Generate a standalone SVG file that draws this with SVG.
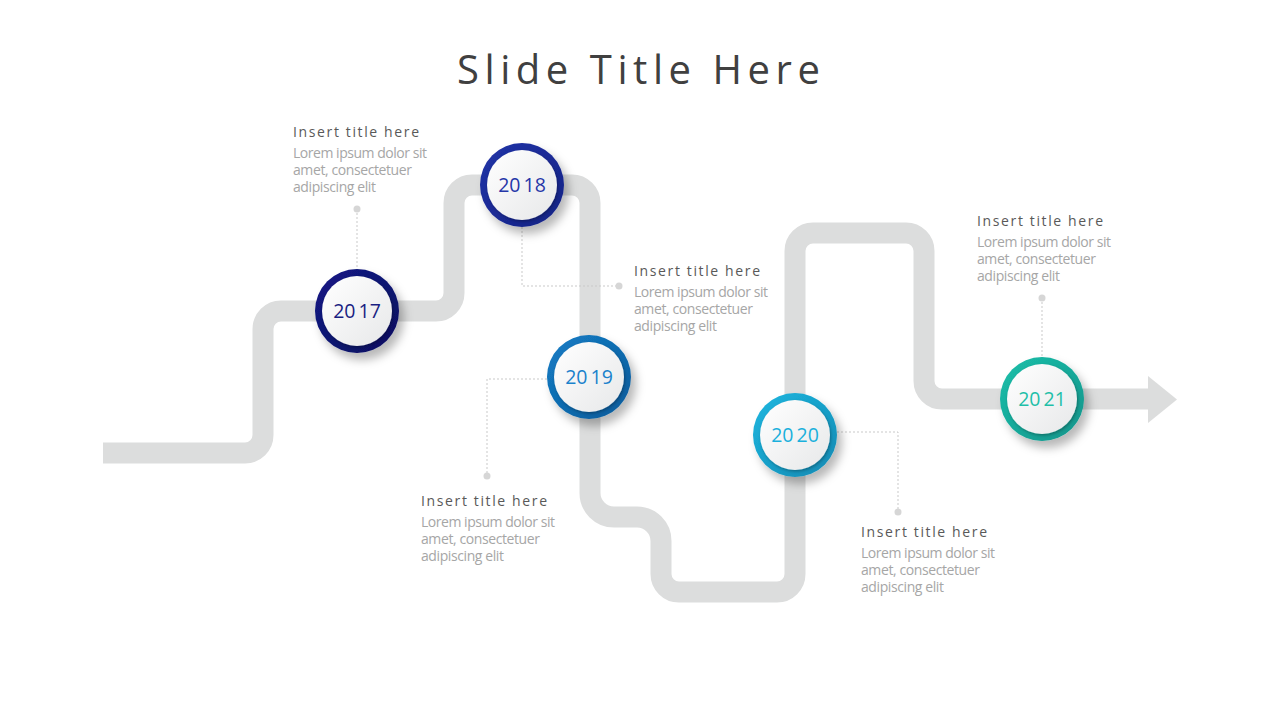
<svg xmlns="http://www.w3.org/2000/svg" width="1280" height="720" viewBox="0 0 1280 720">
<defs>
<style>
.road{fill:none;stroke:#dcdddd;stroke-width:21;stroke-linejoin:round}
.lead{fill:none;stroke:#c9c9c9;stroke-width:1;stroke-dasharray:2 2}
.dot{fill:#d6d6d6}
.ttl{font-family:"Open Sans","Liberation Sans",sans-serif;font-size:14px;fill:#595959}
.body{font-family:"Open Sans","Liberation Sans",sans-serif;font-size:14px;fill:#a6a6a6}
.yr{font-family:"Open Sans","Liberation Sans",sans-serif;font-size:19.5px;text-anchor:middle}
.inner{fill:url(#gWhite)}
</style>
<filter id="sh" x="-40%" y="-40%" width="190%" height="190%">
<feDropShadow dx="5" dy="7" stdDeviation="5" flood-color="#000" flood-opacity="0.28"/>
</filter>
<filter id="ish" x="-20%" y="-20%" width="140%" height="140%">
<feDropShadow dx="1" dy="1.5" stdDeviation="1.5" flood-color="#000" flood-opacity="0.3"/>
</filter>
<linearGradient id="gWhite" x1="0" y1="0" x2="1" y2="1">
<stop offset="0" stop-color="#ffffff"/>
<stop offset="1" stop-color="#e7e8e9"/>
</linearGradient>
<linearGradient id="g17" x1="0" y1="0" x2="1" y2="1">
<stop offset="0" stop-color="#141a86"/>
<stop offset="1" stop-color="#0a0f5e"/>
</linearGradient>
<linearGradient id="g18" x1="0" y1="0" x2="1" y2="1">
<stop offset="0" stop-color="#2233a8"/>
<stop offset="1" stop-color="#142283"/>
</linearGradient>
<linearGradient id="g19" x1="0" y1="0" x2="1" y2="1">
<stop offset="0" stop-color="#147dc6"/>
<stop offset="1" stop-color="#0b5a99"/>
</linearGradient>
<linearGradient id="g20" x1="0" y1="0" x2="1" y2="1">
<stop offset="0" stop-color="#1db7e0"/>
<stop offset="1" stop-color="#1289b2"/>
</linearGradient>
<linearGradient id="g21" x1="0" y1="0" x2="1" y2="1">
<stop offset="0" stop-color="#1cc0aa"/>
<stop offset="1" stop-color="#10938a"/>
</linearGradient>
</defs>
<rect width="1280" height="720" fill="#ffffff"/>
<text x="457" y="84" textLength="363" lengthAdjust="spacing" font-family="'Open Sans','Liberation Sans',sans-serif" font-size="40" fill="#404040">Slide Title Here</text>

<g id="road">
<path class="road" d="M103,453 H245 A18,18 0 0 0 263,435 V329 A18,18 0 0 1 281,311 H436 A18,18 0 0 0 454,293 V203 A18,18 0 0 1 472,185 H572 A18,18 0 0 1 590,203 V493 A24,24 0 0 0 614,517 H637 A24,24 0 0 1 661,541 V574 A18,18 0 0 0 679,592 H777 A18,18 0 0 0 795,574 V251 A18,18 0 0 1 813,233 H906 A18,18 0 0 1 924,251 V381 A18,18 0 0 0 942,399 H1150"/>
<polygon points="1148,376 1177,399.5 1148,423" fill="#dcdddd"/>
</g>

<g id="connectors">
<line class="lead" x1="357" y1="209" x2="357" y2="269"/>
<circle class="dot" cx="357" cy="209" r="3.5"/>
<polyline class="lead" points="522,227 522,286 619,286"/>
<circle class="dot" cx="619" cy="286" r="3.5"/>
<polyline class="lead" points="547,379 487,379 487,476"/>
<circle class="dot" cx="487" cy="476" r="3.5"/>
<polyline class="lead" points="837,432 898,432 898,512"/>
<circle class="dot" cx="898" cy="512" r="3.5"/>
<line class="lead" x1="1042" y1="298" x2="1042" y2="357"/>
<circle class="dot" cx="1042" cy="298" r="3.5"/>
</g>

<g id="n2017">
<circle cx="357" cy="311" r="42" fill="url(#g17)" filter="url(#sh)"/>
<circle class="inner" cx="357" cy="311" r="35" filter="url(#ish)"/>
<text class="yr" x="357" y="318" fill="#1a1f82"><tspan>20</tspan><tspan dx="3">17</tspan></text>
<text class="ttl" x="293" y="137" textLength="126" lengthAdjust="spacing">Insert title here</text>
<text class="body" x="293" y="158" textLength="134">Lorem ipsum dolor sit</text>
<text class="body" x="293" y="175" textLength="119">amet, consectetuer</text>
<text class="body" x="293" y="192" textLength="83">adipiscing elit</text>
</g>

<g id="n2018">
<circle cx="522" cy="185" r="42" fill="url(#g18)" filter="url(#sh)"/>
<circle class="inner" cx="522" cy="185" r="35" filter="url(#ish)"/>
<text class="yr" x="522" y="192" fill="#2637a8"><tspan>20</tspan><tspan dx="3">18</tspan></text>
<text class="ttl" x="634" y="276" textLength="126" lengthAdjust="spacing">Insert title here</text>
<text class="body" x="634" y="297" textLength="134">Lorem ipsum dolor sit</text>
<text class="body" x="634" y="314" textLength="119">amet, consectetuer</text>
<text class="body" x="634" y="331" textLength="83">adipiscing elit</text>
</g>

<g id="n2019">
<circle cx="589" cy="377" r="42" fill="url(#g19)" filter="url(#sh)"/>
<circle class="inner" cx="589" cy="377" r="35" filter="url(#ish)"/>
<text class="yr" x="589" y="384" fill="#1a82cc"><tspan>20</tspan><tspan dx="3">19</tspan></text>
<text class="ttl" x="421" y="506" textLength="126" lengthAdjust="spacing">Insert title here</text>
<text class="body" x="421" y="527" textLength="134">Lorem ipsum dolor sit</text>
<text class="body" x="421" y="544" textLength="119">amet, consectetuer</text>
<text class="body" x="421" y="561" textLength="83">adipiscing elit</text>
</g>

<g id="n2020">
<circle cx="795" cy="435" r="42" fill="url(#g20)" filter="url(#sh)"/>
<circle class="inner" cx="795" cy="435" r="35" filter="url(#ish)"/>
<text class="yr" x="795" y="442" fill="#1ab0dc"><tspan>20</tspan><tspan dx="3">20</tspan></text>
<text class="ttl" x="861" y="537" textLength="126" lengthAdjust="spacing">Insert title here</text>
<text class="body" x="861" y="558" textLength="134">Lorem ipsum dolor sit</text>
<text class="body" x="861" y="575" textLength="119">amet, consectetuer</text>
<text class="body" x="861" y="592" textLength="83">adipiscing elit</text>
</g>

<g id="n2021">
<circle cx="1042" cy="399" r="42" fill="url(#g21)" filter="url(#sh)"/>
<circle class="inner" cx="1042" cy="399" r="35" filter="url(#ish)"/>
<text class="yr" x="1042" y="406" fill="#1fbfa8"><tspan>20</tspan><tspan dx="3">21</tspan></text>
<text class="ttl" x="977" y="226" textLength="126" lengthAdjust="spacing">Insert title here</text>
<text class="body" x="977" y="247" textLength="134">Lorem ipsum dolor sit</text>
<text class="body" x="977" y="264" textLength="119">amet, consectetuer</text>
<text class="body" x="977" y="281" textLength="83">adipiscing elit</text>
</g>
</svg>
